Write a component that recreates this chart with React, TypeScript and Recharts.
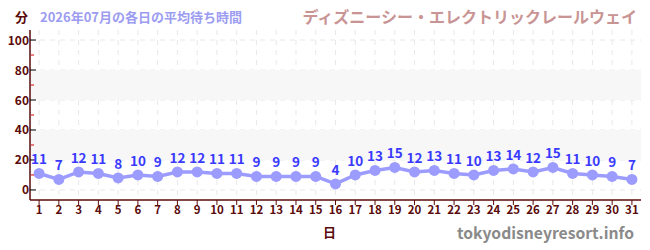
import React from 'react';
import {
  LineChart,
  Line,
  XAxis,
  YAxis,
  CartesianGrid,
  ReferenceArea,
  LabelList,
} from 'recharts';

// 各日の平均待ち時間 (分)
const days = Array.from({ length: 31 }, (_, i) => i + 1);
const waits = [
  11, 7, 12, 11, 8, 10, 9, 12, 12, 11, 11, 9, 9, 9, 9, 4, 10, 13, 15, 12, 13,
  11, 10, 13, 14, 12, 15, 11, 10, 9, 7,
];
const yTicks = [0, 10, 20, 30, 40, 50, 60, 70, 80, 90, 100];
const yMajor = [0, 20, 40, 60, 80, 100];
const bands = [
  [20, 40],
  [60, 80],
];

const titleLeft = '2026年07月の各日の平均待ち時間';
const titleRight = 'ディズニーシー・エレクトリックレールウェイ';
const yUnit = '分';
const xUnit = '日';
const credit = 'tokyodisneyresort.info';

const data = days.map((d, i) => ({ day: d, wait: waits[i] }));

const FONT = '"Noto Sans CJK JP", "Noto Sans", sans-serif';
const AXIS = '#5a0a0a';

// 20刻みは目盛線+数値、10刻みは赤い短い線
const YTick = (props: any) => {
  const { x, y, payload } = props;
  const v = payload.value;
  if (v % 20 !== 0) {
    return <line x1={x + 3} x2={x + 6} y1={y} y2={y} stroke="#e00000" strokeWidth={1} />;
  }
  return (
    <g>
      <line x1={x + 2} x2={x + 8} y1={y} y2={y} stroke="#000" strokeWidth={1} />
      <text
        x={x + 1}
        y={y}
        dy={4.5}
        textAnchor="end"
        fill={AXIS}
        fontSize={12}
        fontWeight={700}
        fontFamily={FONT}
      >
        {v}
      </text>
    </g>
  );
};

export default function App() {
  return (
    <div style={{ position: 'absolute', left: 0, top: 0, width: 650, height: 250, fontFamily: FONT }}>
      <LineChart
        width={650}
        height={250}
        data={data}
        margin={{ top: 30, right: 9, bottom: 30, left: 0 }}
      >
        {bands.map(([a, b]) => (
          <ReferenceArea
            key={a}
            y1={a}
            y2={b}
            fill="#f7f7f7"
            fillOpacity={1}
            stroke="none"
            ifOverflow="visible"
          />
        ))}
        <CartesianGrid
          stroke="#e8e8e8"
          strokeDasharray="5 5"
          horizontalValues={yMajor}
          verticalValues={days}
        />
        <XAxis
          dataKey="day"
          type="number"
          height={20}
          domain={[0.54, 31.46]}
          ticks={days}
          interval={0}
          tick={{ fill: AXIS, fontSize: 11.5, fontWeight: 700, fontFamily: FONT }}
          axisLine={{ stroke: AXIS, strokeWidth: 1.5 }}
          tickLine={{ stroke: AXIS }}
          tickSize={5}
          tickMargin={1}
        />
        <YAxis
          type="number"
          width={30}
          domain={[-6.7, 106.7]}
          ticks={yTicks}
          interval={0}
          tick={<YTick />}
          tickLine={false}
          tickSize={0}
          axisLine={{ stroke: AXIS, strokeWidth: 1.5 }}
          allowDataOverflow
        />
        <Line
          dataKey="wait"
          type="linear"
          stroke="#9c9cff"
          strokeWidth={3.5}
          dot={{ r: 5.5, fill: '#9c9cff', stroke: 'none' }}
          isAnimationActive={false}
        >
          <LabelList
            dataKey="wait"
            position="top"
            offset={9}
            fill="#3a3aff"
            fontSize={13.5}
            fontWeight={700}
            fontFamily={FONT}
          />
        </Line>
      </LineChart>
      <div style={{ position: 'absolute', left: 15, top: 7, fontSize: 13, fontWeight: 700, color: AXIS, lineHeight: '20px' }}>
        {yUnit}
      </div>
      <div style={{ position: 'absolute', left: 40, top: 7, fontSize: 13, fontWeight: 700, color: '#9c9cf0', lineHeight: '20px', whiteSpace: 'nowrap' }}>
        {titleLeft}
      </div>
      <div style={{ position: 'absolute', right: 13, top: 5, fontSize: 16, fontWeight: 700, color: '#c89494', lineHeight: '22px', whiteSpace: 'nowrap' }}>
        {titleRight}
      </div>
      <div style={{ position: 'absolute', left: 323, top: 222, fontSize: 13, fontWeight: 700, color: AXIS, lineHeight: '20px' }}>
        {xUnit}
      </div>
      <div style={{ position: 'absolute', right: 16, top: 222, fontSize: 15.7, fontWeight: 700, color: '#8a8a8a', lineHeight: '22px', whiteSpace: 'nowrap' }}>
        {credit}
      </div>
    </div>
  );
}
